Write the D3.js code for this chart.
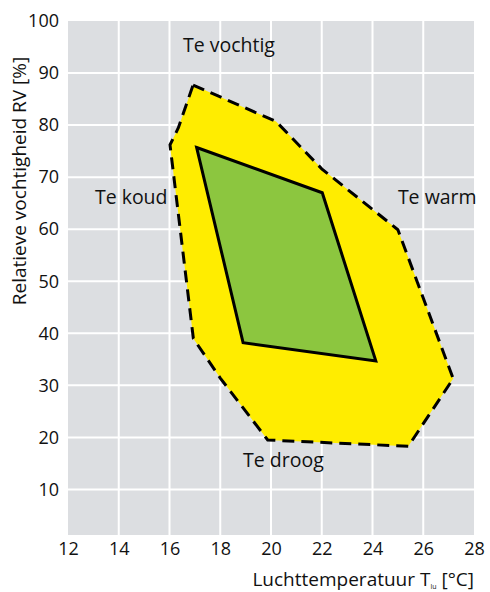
<!DOCTYPE html>
<html>
<head>
<meta charset="utf-8">
<script src="https://cdn.jsdelivr.net/npm/d3@7"></script>
<style>
  html, body { margin: 0; padding: 0; background: #ffffff; }
  svg text { font-family: "Open Sans", "Noto Sans", sans-serif; fill: #111111; }
</style>
</head>
<body>
<svg id="chart" width="490" height="592"></svg>
<script>
// Axis ticks
const xTicks = [12, 14, 16, 18, 20, 22, 24, 26, 28];
const yTicks = [10, 20, 30, 40, 50, 60, 70, 80, 90, 100];

// Acceptable zone (yellow, dashed outline): air temperature [°C] and RV [%]
const acceptTemp = [16.93, 20.2, 22.0, 25.0, 27.18, 25.41, 19.87, 18.0, 16.94, 16.02, 16.35];
const acceptRV   = [87.7, 80.7, 71.6, 59.9, 31.3, 18.3, 19.5, 31.4, 39.0, 76.2, 79.5];

// Comfortable zone (green, solid outline)
const comfortTemp = [17.07, 22.02, 24.13, 18.9];
const comfortRV   = [75.7, 67.0, 34.7, 38.2];

// Zone labels
const zoneNames = ["Te vochtig", "Te koud", "Te warm", "Te droog"];
const zoneTemp  = [16.53, 13.06, 25.0, 18.9];
const zoneRV    = [94.0, 64.9, 64.9, 14.4];

const svg = d3.select("#chart");
const plot = { left: 68, right: 474, top: 21, bottom: 535 };

const x = d3.scaleLinear().domain([12, 28]).range([plot.left, plot.right]);
const y = d3.scaleLinear().domain([1.25, 100]).range([plot.bottom, plot.top]);

// Plot background
svg.append("rect")
  .attr("x", plot.left).attr("y", plot.top)
  .attr("width", plot.right - plot.left)
  .attr("height", plot.bottom - plot.top)
  .attr("fill", "#dcdee1");

// White grid lines
const grid = svg.append("g");
grid.selectAll("line.v")
  .data(xTicks.filter(d => d > 12 && d < 28))
  .join("line")
  .attr("x1", d => x(d)).attr("x2", d => x(d))
  .attr("y1", plot.top).attr("y2", plot.bottom)
  .attr("stroke", "#ffffff").attr("stroke-width", 2);
grid.selectAll("line.h")
  .data(yTicks.filter(d => d < 100))
  .join("line")
  .attr("x1", plot.left).attr("x2", plot.right)
  .attr("y1", d => y(d)).attr("y2", d => y(d))
  .attr("stroke", "#ffffff").attr("stroke-width", 2);

const line = d3.line().x(d => x(d[0])).y(d => y(d[1])).curve(d3.curveLinearClosed);
const acceptPts = acceptTemp.map((t, i) => [t, acceptRV[i]]);
const comfortPts = comfortTemp.map((t, i) => [t, comfortRV[i]]);

svg.append("path")
  .attr("d", line(acceptPts))
  .attr("fill", "#ffed00")
  .attr("stroke", "#000")
  .attr("stroke-width", 3)
  .attr("stroke-dasharray", "12,7")
  .attr("stroke-linejoin", "miter");

svg.append("path")
  .attr("d", line(comfortPts))
  .attr("fill", "#8cc63f")
  .attr("stroke", "#000")
  .attr("stroke-width", 3)
  .attr("stroke-linejoin", "miter");

// Axes (labels only, no domain lines or tick marks)
const xAxis = svg.append("g")
  .attr("transform", `translate(0,${plot.bottom})`)
  .call(d3.axisBottom(x).tickValues(xTicks).tickSize(0).tickPadding(7).tickFormat(d3.format("d")));
xAxis.select(".domain").remove();
xAxis.selectAll("text").attr("font-size", 18).attr("fill", "#111")
  .attr("font-family", "'Open Sans', sans-serif").attr("dy", "0.71em");

const yAxis = svg.append("g")
  .attr("transform", `translate(${plot.left},0)`)
  .call(d3.axisLeft(y).tickValues(yTicks).tickSize(0).tickPadding(9).tickFormat(d3.format("d")));
yAxis.select(".domain").remove();
yAxis.selectAll("text").attr("font-size", 18).attr("fill", "#111")
  .attr("font-family", "'Open Sans', sans-serif");

// Zone labels
svg.selectAll("text.zone")
  .data(zoneNames)
  .join("text")
  .attr("class", "zone")
  .attr("x", (d, i) => x(zoneTemp[i]))
  .attr("y", (d, i) => y(zoneRV[i]))
  .attr("font-size", 19.5)
  .text(d => d);

// Axis titles
svg.append("text")
  .attr("transform", `translate(26,181) rotate(-90)`)
  .attr("text-anchor", "middle")
  .attr("font-size", 19)
  .text("Relatieve vochtigheid RV [%]");

const xt = svg.append("text")
  .attr("x", plot.right)
  .attr("y", 586)
  .attr("text-anchor", "end")
  .attr("font-size", 19);
xt.append("tspan").text("Luchttemperatuur T");
xt.append("tspan").attr("font-size", 7).attr("dy", 3).text("lu");
xt.append("tspan").attr("dy", -3).text(" [°C]");
</script>
</body>
</html>
